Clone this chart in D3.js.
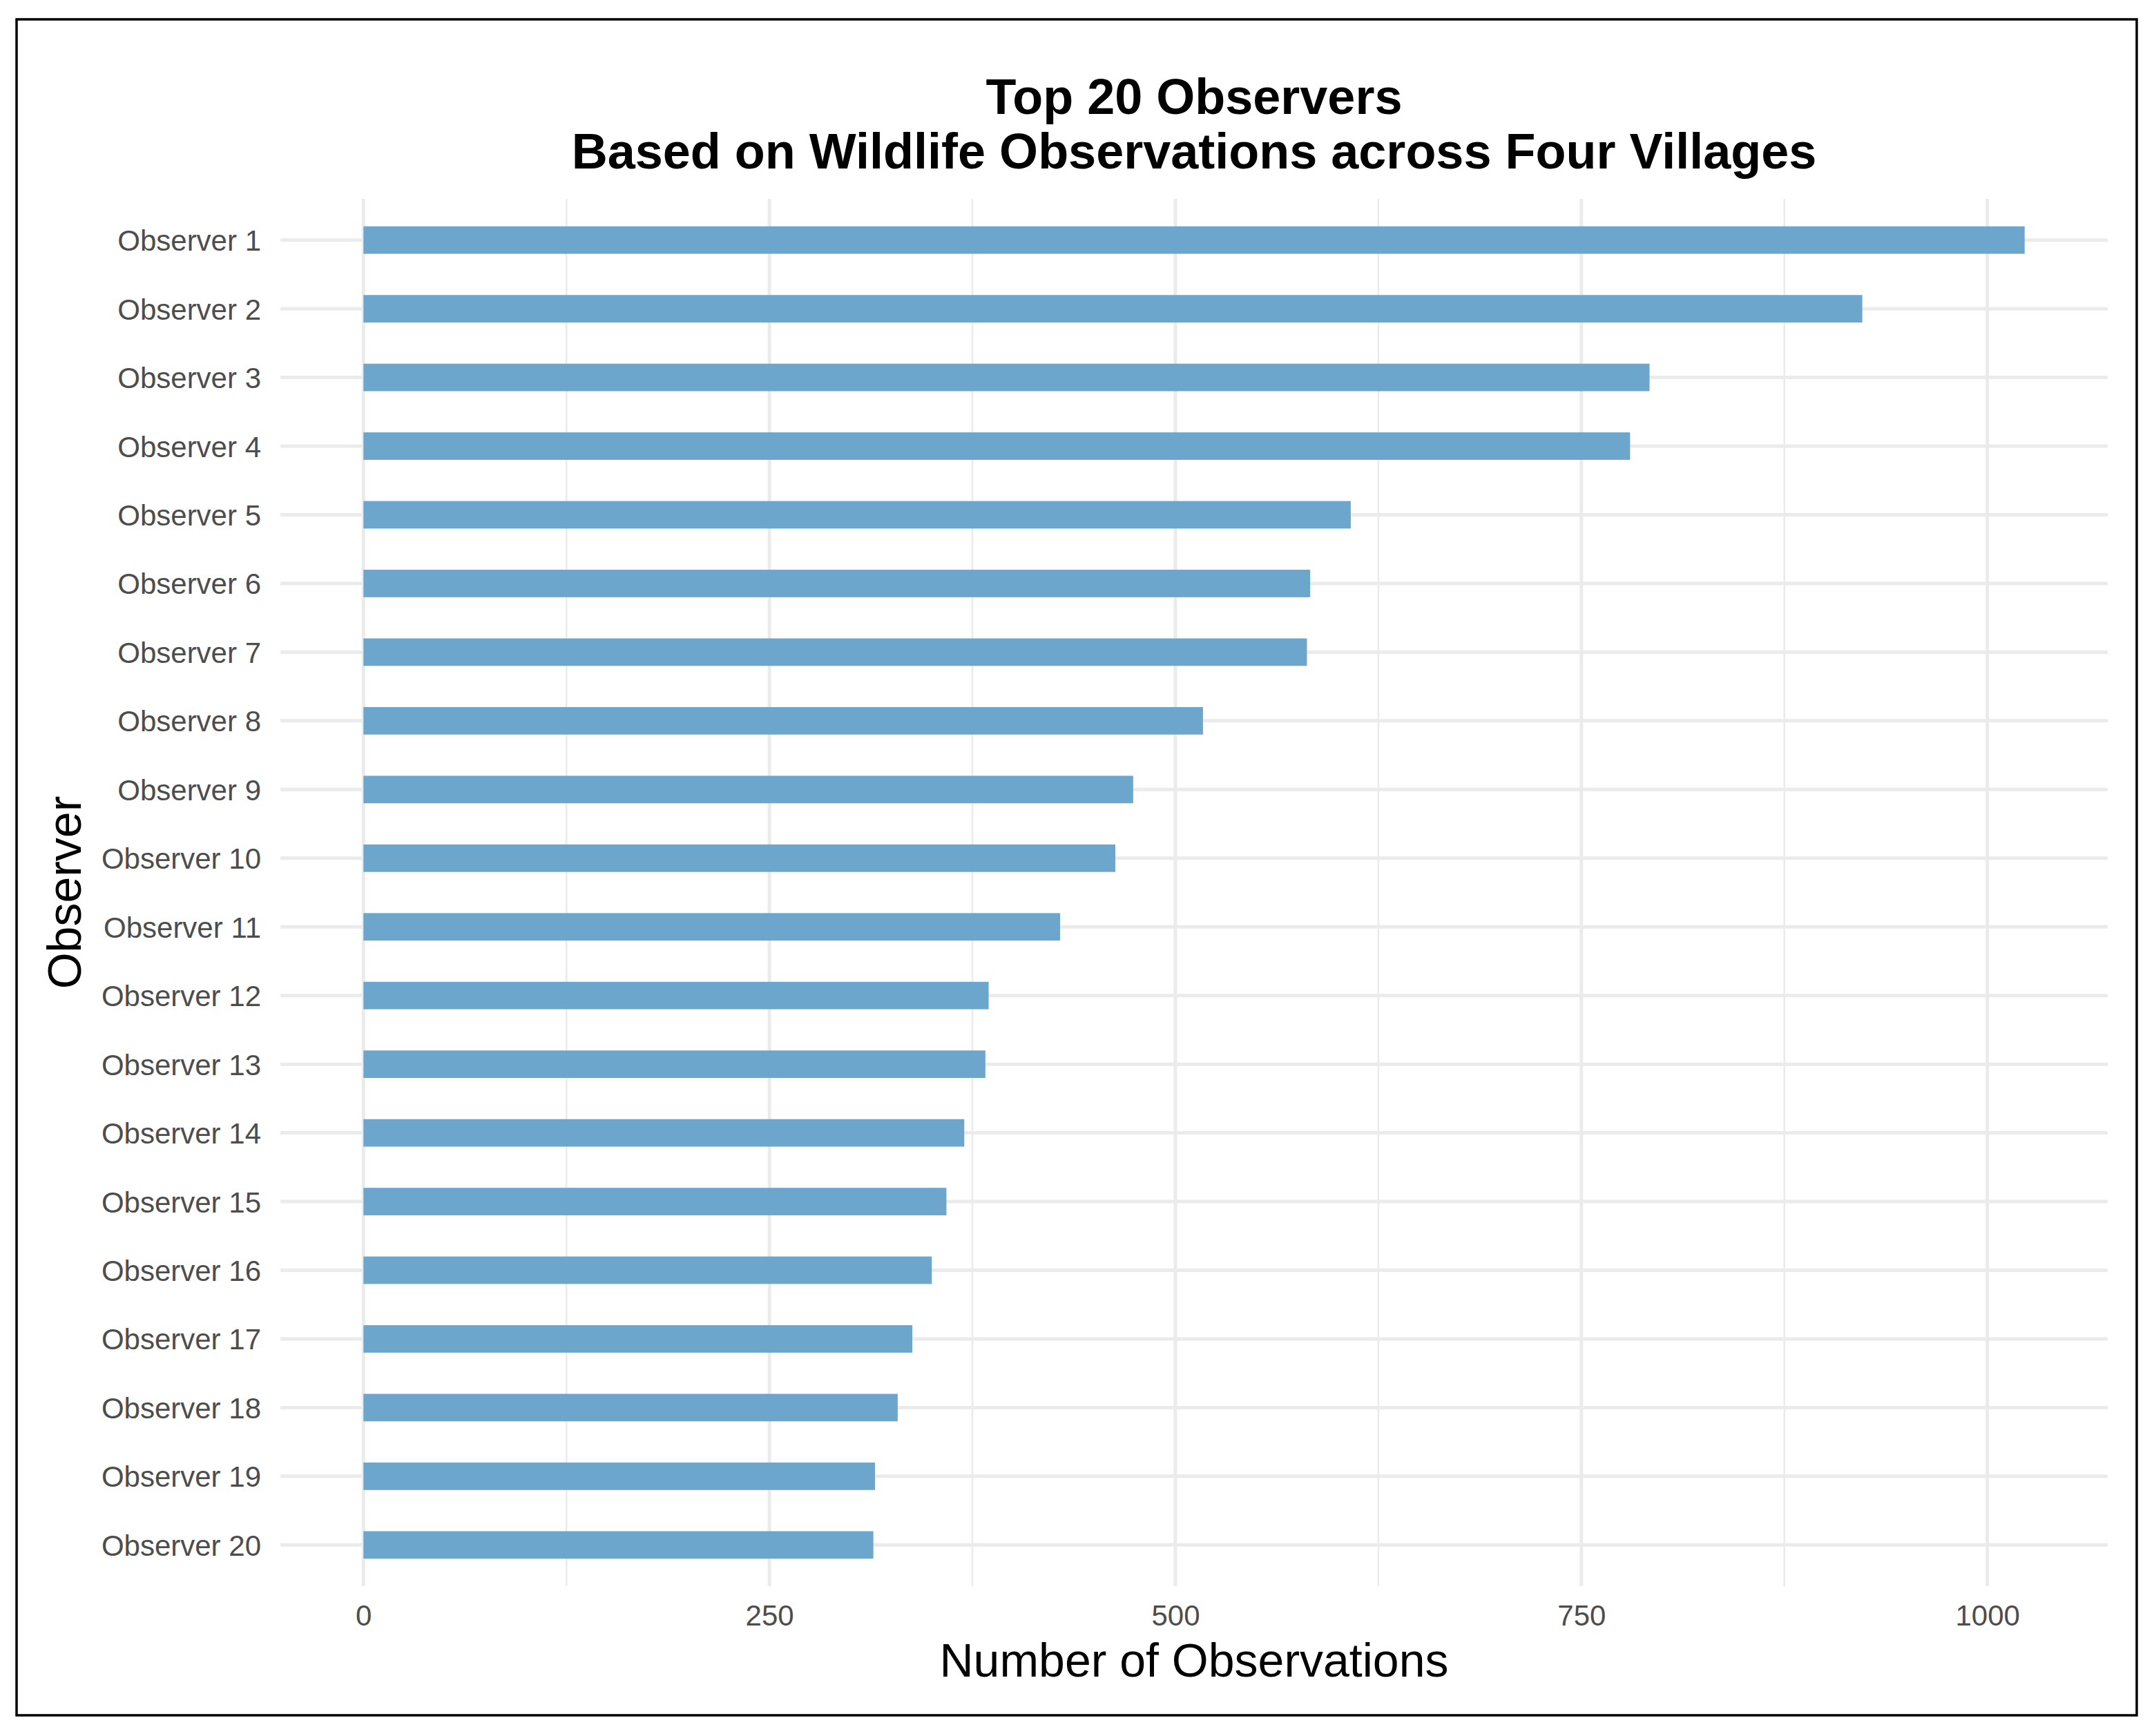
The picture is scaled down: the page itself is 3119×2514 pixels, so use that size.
<!DOCTYPE html>
<html>
<head>
<meta charset="utf-8">
<script src="https://cdn.jsdelivr.net/npm/d3@7"></script>
<style>
  html, body { margin: 0; padding: 0; background: #ffffff; }
  svg { display: block; }
  text { font-family: "Liberation Sans", Arial, Helvetica, sans-serif; }
</style>
</head>
<body>
<script>
// ---------------- DATA ----------------
const observers = [
  "Observer 1", "Observer 2", "Observer 3", "Observer 4", "Observer 5",
  "Observer 6", "Observer 7", "Observer 8", "Observer 9", "Observer 10",
  "Observer 11", "Observer 12", "Observer 13", "Observer 14", "Observer 15",
  "Observer 16", "Observer 17", "Observer 18", "Observer 19", "Observer 20"
];
const observationCounts = [
  1023, 923, 792, 780, 608,
  583, 581, 517, 474, 463,
  429, 385, 383, 370, 359,
  350, 338, 329, 315, 314
];
const xMajorTicks = [0, 250, 500, 750, 1000];
const xMinorTicks = [125, 375, 625, 875];
const titleLines = ["Top 20 Observers", "Based on Wildlife Observations across Four Villages"];
const xAxisTitle = "Number of Observations";
const yAxisTitle = "Observer";

// ---------------- LAYOUT ----------------
const W = 3119, H = 2514;
const panel = { left: 406, right: 3052, top: 288, bottom: 2297 };

const svg = d3.select("body").append("svg")
  .attr("width", W).attr("height", H)
  .attr("viewBox", `0 0 ${W} ${H}`);

svg.append("rect").attr("x", 0).attr("y", 0).attr("width", W).attr("height", H).attr("fill", "#ffffff");

// outer border
svg.append("rect")
  .attr("x", 24).attr("y", 28)
  .attr("width", 3094 - 24).attr("height", 2484 - 28)
  .attr("fill", "none").attr("stroke", "#000000").attr("stroke-width", 3.5);

// scales (ggplot-like 5% expansion on continuous axis)
const maxVal = d3.max(observationCounts);
const x = d3.scaleLinear()
  .domain([-0.05 * maxVal, maxVal * 1.05])
  .range([panel.left, panel.right]);

const y = d3.scalePoint()
  .domain(observers)
  .range([panel.top, panel.bottom])
  .padding(0.6);
const barH = y.step() * 0.4;

const data = observers.map((o, i) => ({ name: o, value: observationCounts[i] }));

// grid
const grid = svg.append("g");
grid.selectAll("line.minor").data(xMinorTicks).join("line")
  .attr("class", "minor")
  .attr("x1", d => x(d)).attr("x2", d => x(d))
  .attr("y1", panel.top).attr("y2", panel.bottom)
  .attr("stroke", "#ebebeb").attr("stroke-width", 2.6);
grid.selectAll("line.major").data(xMajorTicks).join("line")
  .attr("class", "major")
  .attr("x1", d => x(d)).attr("x2", d => x(d))
  .attr("y1", panel.top).attr("y2", panel.bottom)
  .attr("stroke", "#ebebeb").attr("stroke-width", 5);
grid.selectAll("line.hmajor").data(observers).join("line")
  .attr("class", "hmajor")
  .attr("x1", panel.left).attr("x2", panel.right)
  .attr("y1", d => y(d)).attr("y2", d => y(d))
  .attr("stroke", "#ebebeb").attr("stroke-width", 5);

// bars
svg.append("g").selectAll("rect").data(data).join("rect")
  .attr("x", x(0))
  .attr("y", d => y(d.name) - barH / 2)
  .attr("width", d => x(d.value) - x(0))
  .attr("height", barH)
  .attr("fill", "#6CA6CD");

// x axis (labels only)
const xAxis = d3.axisBottom(x).tickValues(xMajorTicks).tickSize(0).tickPadding(0).tickFormat(d3.format("d"));
const gx = svg.append("g").attr("transform", `translate(0, ${panel.bottom})`).call(xAxis);
gx.select(".domain").remove();
gx.selectAll("text")
  .attr("y", 57).attr("dy", 0)
  .attr("fill", "#4d4d4d")
  .style("font-size", "42px")
  .style("font-family", '"Liberation Sans", Arial, sans-serif');

// y axis (labels only)
const yAxis = d3.axisLeft(y).tickSize(0).tickPadding(0);
const gy = svg.append("g").attr("transform", `translate(${panel.left}, 0)`).call(yAxis);
gy.select(".domain").remove();
gy.selectAll("text")
  .attr("x", -28).attr("dy", 0).attr("y", 15)
  .attr("text-anchor", "end")
  .attr("fill", "#4d4d4d")
  .style("font-size", "42px")
  .style("font-family", '"Liberation Sans", Arial, sans-serif');

// axis titles
svg.append("text")
  .attr("x", (panel.left + panel.right) / 2).attr("y", 2428)
  .attr("text-anchor", "middle")
  .attr("fill", "#000000")
  .style("font-size", "68px")
  .text(xAxisTitle);

svg.append("text")
  .attr("transform", `translate(117, ${(panel.top + panel.bottom) / 2}) rotate(-90)`)
  .attr("text-anchor", "middle")
  .attr("fill", "#000000")
  .style("font-size", "68px")
  .text(yAxisTitle);

// title
svg.append("g").selectAll("text").data(titleLines).join("text")
  .attr("x", (panel.left + panel.right) / 2)
  .attr("y", (d, i) => 165 + i * 79)
  .attr("text-anchor", "middle")
  .attr("fill", "#000000")
  .style("font-size", "72px")
  .style("font-weight", "bold")
  .text(d => d);
</script>
</body>
</html>
